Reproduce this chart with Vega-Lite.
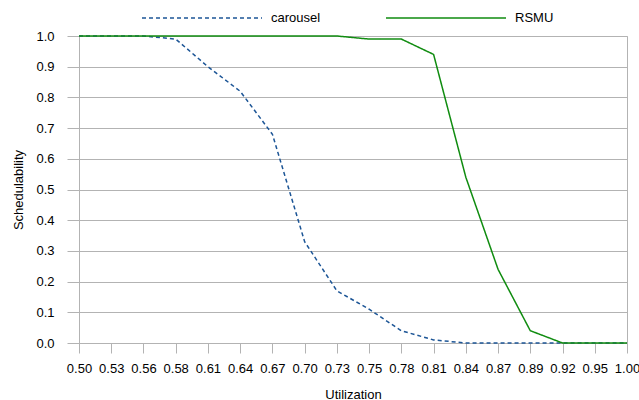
{
  "$schema": "https://vega.github.io/schema/vega-lite/v6.json",
  "width": 548,
  "height": 307,
  "autosize": {"type": "none"},
  "padding": {"left": 79, "top": 36, "right": 12, "bottom": 57},
  "background": "white",
  "config": {
    "font": "Liberation Sans",
    "view": {"stroke": "#b3b3b3", "strokeWidth": 1},
    "axis": {
      "domainColor": "#b3b3b3",
      "tickColor": "#b3b3b3",
      "gridColor": "#b3b3b3",
      "labelFont": "Liberation Sans",
      "labelFontSize": 13,
      "labelColor": "#000000",
      "titleFont": "Liberation Sans",
      "titleFontSize": 13,
      "titleFontWeight": "normal",
      "titleColor": "#000000"
    }
  },
  "data": {
    "values": [
      {"u": "0.50", "s": "carousel", "v": 1.0},
      {"u": "0.53", "s": "carousel", "v": 1.0},
      {"u": "0.56", "s": "carousel", "v": 1.0},
      {"u": "0.58", "s": "carousel", "v": 0.99},
      {"u": "0.61", "s": "carousel", "v": 0.90},
      {"u": "0.64", "s": "carousel", "v": 0.82},
      {"u": "0.67", "s": "carousel", "v": 0.68},
      {"u": "0.70", "s": "carousel", "v": 0.33},
      {"u": "0.73", "s": "carousel", "v": 0.17},
      {"u": "0.75", "s": "carousel", "v": 0.11},
      {"u": "0.78", "s": "carousel", "v": 0.04},
      {"u": "0.81", "s": "carousel", "v": 0.01},
      {"u": "0.84", "s": "carousel", "v": 0.0},
      {"u": "0.87", "s": "carousel", "v": 0.0},
      {"u": "0.89", "s": "carousel", "v": 0.0},
      {"u": "0.92", "s": "carousel", "v": 0.0},
      {"u": "0.95", "s": "carousel", "v": 0.0},
      {"u": "1.00", "s": "carousel", "v": 0.0},
      {"u": "0.50", "s": "RSMU", "v": 1.0},
      {"u": "0.53", "s": "RSMU", "v": 1.0},
      {"u": "0.56", "s": "RSMU", "v": 1.0},
      {"u": "0.58", "s": "RSMU", "v": 1.0},
      {"u": "0.61", "s": "RSMU", "v": 1.0},
      {"u": "0.64", "s": "RSMU", "v": 1.0},
      {"u": "0.67", "s": "RSMU", "v": 1.0},
      {"u": "0.70", "s": "RSMU", "v": 1.0},
      {"u": "0.73", "s": "RSMU", "v": 1.0},
      {"u": "0.75", "s": "RSMU", "v": 0.99},
      {"u": "0.78", "s": "RSMU", "v": 0.99},
      {"u": "0.81", "s": "RSMU", "v": 0.94},
      {"u": "0.84", "s": "RSMU", "v": 0.54},
      {"u": "0.87", "s": "RSMU", "v": 0.24},
      {"u": "0.89", "s": "RSMU", "v": 0.04},
      {"u": "0.92", "s": "RSMU", "v": 0.0},
      {"u": "0.95", "s": "RSMU", "v": 0.0},
      {"u": "1.00", "s": "RSMU", "v": 0.0}
    ]
  },
  "mark": {"type": "line", "strokeWidth": 1.5},
  "encoding": {
    "x": {
      "field": "u",
      "type": "ordinal",
      "scale": {"type": "point", "padding": 0},
      "axis": {
        "title": "Utilization",
        "labelAngle": 0,
        "grid": false,
        "tickSize": 10,
        "labelPadding": 9,
        "titlePadding": 13
      }
    },
    "y": {
      "field": "v",
      "type": "quantitative",
      "scale": {"domain": [0, 1], "nice": false},
      "axis": {
        "title": "Schedulability",
        "values": [0, 0.1, 0.2, 0.3, 0.4, 0.5, 0.6, 0.7, 0.8, 0.9, 1.0],
        "format": ".1f",
        "tickSize": 12,
        "labelPadding": 13,
        "titlePadding": 10,
        "domain": true
      }
    },
    "color": {
      "field": "s",
      "type": "nominal",
      "sort": ["carousel", "RSMU"],
      "scale": {"domain": ["carousel", "RSMU"], "range": ["#1c5596", "#108c10"]},
      "legend": {
        "title": null,
        "orient": "none",
        "direction": "horizontal",
        "legendX": 62,
        "legendY": -79,
        "symbolType": "stroke",
        "symbolSize": 14400,
        "symbolStrokeWidth": 1.5,
        "labelFontSize": 13,
        "labelColor": "#000000",
        "labelOffset": 8,
        "columnPadding": 62,
        "padding": 0
      }
    },
    "strokeDash": {
      "field": "s",
      "type": "nominal",
      "sort": ["carousel", "RSMU"],
      "scale": {"domain": ["carousel", "RSMU"], "range": [[4, 3], [1, 0]]}
    }
  }
}
